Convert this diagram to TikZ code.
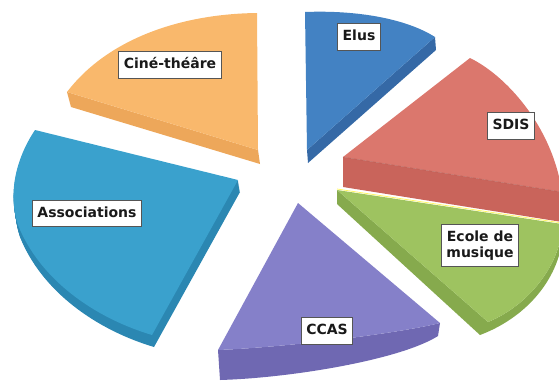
\documentclass[tikz,border=0pt]{standalone}
\usepackage{fontspec}
\newfontfamily\lblfont{DejaVu Sans}
\definecolor{orT}{HTML}{F9B86C}\definecolor{orS}{HTML}{EDA75A}
\definecolor{buT}{HTML}{4382C3}\definecolor{buS}{HTML}{3569A6}
\definecolor{rdT}{HTML}{DB776D}\definecolor{rdS}{HTML}{C9645B}
\definecolor{gnT}{HTML}{9EC360}\definecolor{gnS}{HTML}{86AA4D}
\definecolor{puT}{HTML}{8580C9}\definecolor{puS}{HTML}{6F68B2}
\definecolor{tlT}{HTML}{3AA1CD}\definecolor{tlS}{HTML}{2B87B2}
\definecolor{edgeline}{HTML}{555555}
\tikzset{
  lbl/.style={draw=edgeline, fill=white, line width=0.9pt, inner xsep=5pt, inner ysep=6.5pt,
    text height=10.5pt, text depth=3pt, font=\lblfont\bfseries\fontsize{14}{16}\selectfont,
    text=black!90, align=center},
}
\begin{document}
\begin{tikzpicture}[x=1pt,y=-1pt]
\useasboundingbox (0,0) rectangle (559,381);
\clip (0,0) rectangle (559,381);
% Cine-theatre (orange)
\fill[orS] (67,92) -- (258,150) -- (260,164) -- (71,107) -- cycle;
\fill[orT] (67,92) .. controls (105,42) and (175,14) .. (257,13) -- (258,150) -- cycle;
% Elus (blue)
\fill[buS] (435,37) -- (436,50) -- (308,163) -- (307,150) -- cycle;
\fill[buT] (305,12) .. controls (355,10) and (405,18) .. (435,37) -- (307,150) -- cycle;
% SDIS (red)
\fill[rdS] (343,157) -- (562,192) -- (562,222) -- (343,187) -- cycle;
\fill[rdT] (470,58) .. controls (505,75) and (552,125) .. (562,192) -- (343,157) -- cycle;
\draw[rdS!80!black, line width=0.5pt, opacity=0.5] (343,157) -- (562,192);
% Ecole de musique (green)
\fill[gnS] (337,190) -- (488,322) .. controls (530,305) and (562,262) .. (562,224)
  -- (562,242) .. controls (556,282) and (525,318) .. (480,335) -- (337,204) -- cycle;
\fill[gnT] (337,190) -- (562,224) .. controls (562,262) and (530,305) .. (488,322) -- cycle;
\draw[yellow!60!white, line width=0.8pt] (337,189) -- (562,223);
% Associations (teal)
\foreach \s in {1,...,12}{
  \fill[tlS, shift={(1pt*\s/6,\s)}] (35,130) -- (238,180) -- (152,335) .. controls (95,318) and (40,280) .. (18,225)
    .. controls (8,195) and (15,160) .. (35,130) -- cycle;
}
\fill[tlT] (35,130) -- (238,180) -- (152,335) .. controls (95,318) and (40,280) .. (18,225)
    .. controls (8,195) and (15,160) .. (35,130) -- cycle;
% CCAS (purple)
\fill[puS] (218,350) .. controls (290,347) and (400,333) .. (440,323) -- (438,336)
  .. controls (400,360) and (290,378) .. (220,380) -- cycle;
\fill[puT] (298,203) -- (440,323) .. controls (400,333) and (290,347) .. (218,350) -- cycle;
% labels
\node[lbl] (cine) at (170,65) {Ciné-théâre};
\node[lbl] (elus) at (359,37) {Elus};
\node[lbl] (sdis) at (511,126) {SDIS};
\node[lbl, text height=10.5pt+16pt] (ecole) at (480,245.5) {Ecole de\\musique};
\node[lbl] (ccas) at (327,331) {CCAS};
\node[lbl] (assoc) at (87,213.5) {Associations};
\end{tikzpicture}
\end{document}
